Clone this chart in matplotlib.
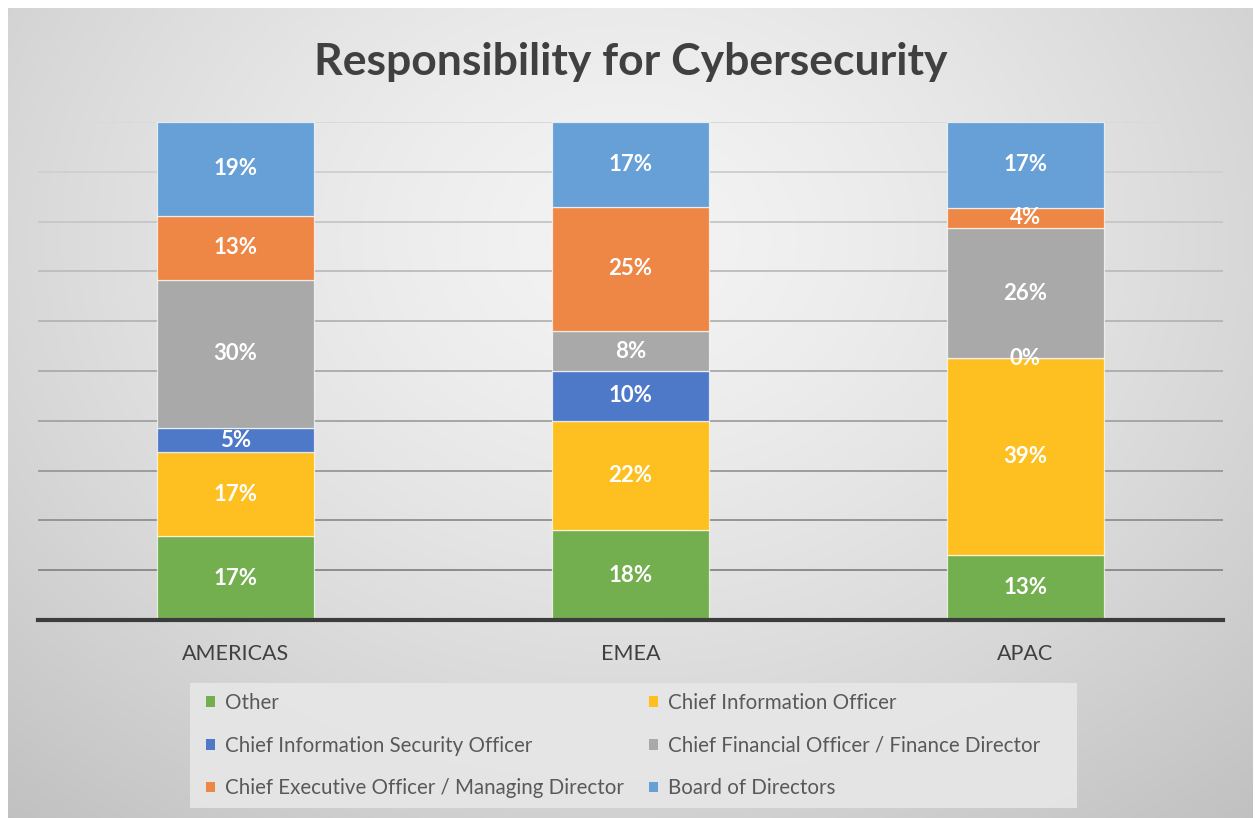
import numpy as np
import matplotlib.pyplot as plt
from matplotlib.patches import Patch, Rectangle

# ---- data -------------------------------------------------------------
regions = ["AMERICAS", "EMEA", "APAC"]
roles = [
    "Other",
    "Chief Information Officer",
    "Chief Information Security Officer",
    "Chief Financial Officer / Finance Director",
    "Chief Executive Officer / Managing Director",
    "Board of Directors",
]
other = [17, 18, 13]
cio = [17, 22, 39]
ciso = [5, 10, 0]
cfo = [30, 8, 26]
ceo = [13, 25, 4]
board = [19, 17, 17]
series = [other, cio, ciso, cfo, ceo, board]
colors = ["#74AF4F", "#FDC020", "#4E79C8", "#A9A9A9", "#EE8645", "#66A0D6"]

plt.rcParams["font.family"] = ["Lato", "DejaVu Sans"]

W, H = 1255, 818
fig = plt.figure(figsize=(W / 100, H / 100), dpi=100, facecolor="white")

# ---- gradient chart background ---------------------------------------
bg = fig.add_axes([8 / W, 0, (W - 10) / W, (H - 8) / H], zorder=-10)
yy, xx = np.mgrid[0:H - 8, 0:W - 10]
cx, cy = 620, 230
r = np.sqrt(((xx - cx) / 1.0) ** 2 + ((yy - cy) * 1.25) ** 2)
r = r / r.max()
val = 0.955 - 0.20 * r ** 1.4
bg.imshow(np.dstack([val, val, val]), aspect="auto", interpolation="bilinear")
bg.set_axis_off()

# ---- bars --------------------------------------------------------------
ax = fig.add_axes([38 / W, (H - 620) / H, 1185 / W, 498 / H])
ax.set_facecolor("none")
data = np.array(series, dtype=float)
totals = data.sum(axis=0)
shares = data / totals
x = np.arange(len(regions))
bottom = np.zeros(len(regions))

# horizontal gridlines, darker toward the base
levels = np.arange(0.1, 1.01, 0.1)
for i, lv in enumerate(levels):
    t = i / (len(levels) - 1)
    g = 0.55 + 0.30 * t
    ax.axhline(lv, color=(g, g, g), lw=1.4, zorder=0)

for vals, sh, col in zip(series, shares, colors):
    ax.bar(x, sh, bottom=bottom, width=0.397, color=col,
           edgecolor=(1, 1, 1, 0.7), linewidth=0.9, zorder=2)
    for xi, b, s, v in zip(x, bottom, sh, vals):
        ax.text(xi, b + s / 2, f"{v}%", ha="center", va="center",
                color="white", fontsize=16, fontweight="bold", zorder=3)
    bottom += sh

ax.axhline(0, color="#3c3c3c", lw=3, zorder=4, clip_on=False)
ax.set_xlim(-0.5, 2.5)
ax.set_ylim(0, 1)
ax.set_yticks([])
ax.set_xticks(x)
ax.set_xticklabels(regions, fontsize=15.5, color="#404040")
ax.tick_params(axis="x", length=0, pad=17)
for s in ax.spines.values():
    s.set_visible(False)

# ---- title -------------------------------------------------------------
fig.text(631 / W, 1 - 62 / H, "Responsibility for Cybersecurity",
         ha="center", va="center", fontsize=32, fontweight="bold",
         color="#404040")

# ---- legend ------------------------------------------------------------
fig.patches.append(Rectangle((190 / W, 1 - 808 / H), 887 / W, 125 / H,
                             transform=fig.transFigure, facecolor="#e7e7e7",
                             edgecolor="none", alpha=0.9, zorder=1))
order = [0, 2, 4, 1, 3, 5]
handles = [Patch(facecolor=colors[i], edgecolor="none") for i in order]
labels = [roles[i] for i in order]
leg = fig.legend(handles, labels, ncol=2, loc="upper left",
                 bbox_to_anchor=(206 / W, 1 - 693 / H),
                 frameon=False, fontsize=14.8,
                 handlelength=0.42, handleheight=0.42, handletextpad=0.5,
                 labelspacing=1.1, columnspacing=1.25, borderpad=0,
                 borderaxespad=0)
for t in leg.get_texts():
    t.set_color("#595959")

fig.savefig("out.png", dpi=100, facecolor="white")
